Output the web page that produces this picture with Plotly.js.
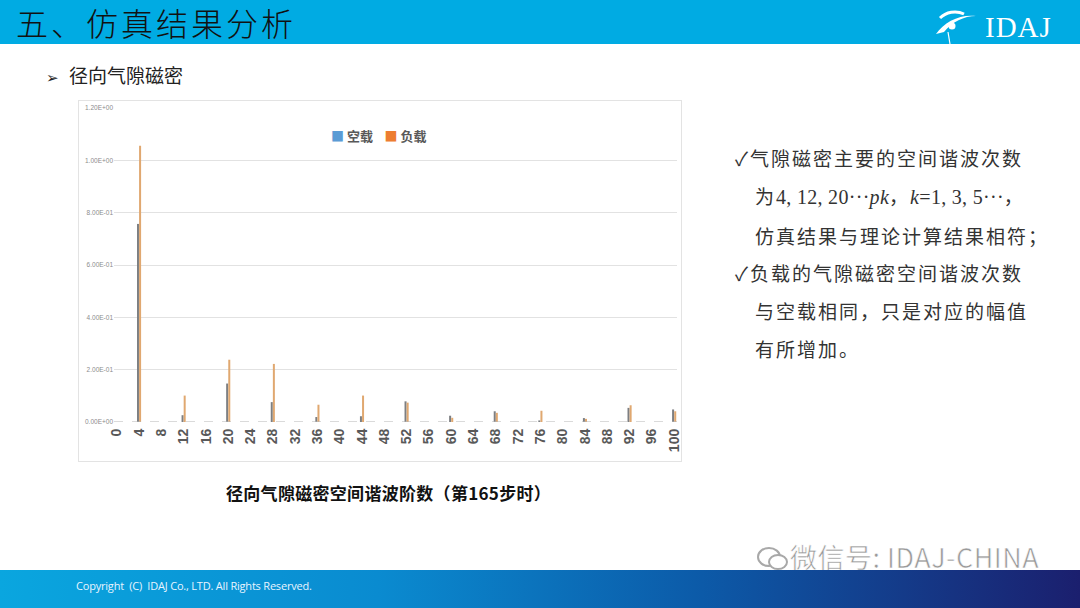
<!DOCTYPE html>
<html>
<head>
<meta charset="utf-8">
<script src="https://cdn.plot.ly/plotly-3.0.1.min.js"></script>
<style>
  html, body { margin:0; padding:0; }
  body { width:1080px; height:608px; position:relative; overflow:hidden; background:#fff;
         font-family:"Noto Sans CJK SC","Noto Sans",sans-serif; }
  #header { position:absolute; left:0; top:0; width:1080px; height:44px; background:#00abe3; }
  #htitle { position:absolute; left:16px; top:2px; font-size:32px; line-height:40px; color:#111;
            font-weight:300; letter-spacing:3px; white-space:nowrap; }
  #logo { position:absolute; left:930px; top:4px; width:130px; height:40px; }
  #sub { position:absolute; left:46px; top:62px; font-size:19px; line-height:26px; color:#222; }
  #sub .arr { font-size:15px; margin-right:10px; }
  #box { position:absolute; left:78px; top:100px; width:602px; height:360px; border:1px solid #e3e3e3; }
  #chart { position:absolute; left:0; top:0; width:602px; height:360px; }
  #cap { position:absolute; left:226px; top:481px; font-size:17px; font-weight:700; color:#111; line-height:24px; letter-spacing:0.3px; white-space:nowrap; }
  #rt { position:absolute; left:735px; top:139px; font-size:19px; line-height:37.8px; color:#333; letter-spacing:2px; white-space:nowrap; }
  #rt .ind { padding-left:20px; }
  #rt .s { font-family:"Liberation Serif",serif; font-size:20px; letter-spacing:0.3px; }
  #rt i { font-family:"Liberation Serif",serif; font-size:20px; letter-spacing:0.3px; }
  #footer { position:absolute; left:0; top:570px; width:1080px; height:38px;
            background:linear-gradient(90deg,#0aa6df 0%,#0a8bd0 35%,#0c5aa8 65%,#1b1f6e 100%); }
  #copy { position:absolute; left:76px; top:578px; font-size:11px; color:#e8f4ff; line-height:16px;
          font-family:"Open Sans","Noto Sans",sans-serif; letter-spacing:-0.2px; }
  #wm { position:absolute; left:756px; top:540px; font-size:27px; color:#9a9a9a; line-height:34px;
        -webkit-text-stroke:0.6px #fff; letter-spacing:0.5px; white-space:nowrap; }
</style>
</head>
<body>
<div id="header">
  <div id="htitle">五、仿真结果分析</div>
  <svg id="logo" viewBox="0 0 130 40">
    <path d="M6 30 C 14 18, 30 10, 46 12 C 34 12, 22 18, 14 28 Z" fill="#fff"/>
    <path d="M10 14 C 16 8, 26 6, 34 10" stroke="#fff" stroke-width="3" fill="none"/>
    <circle cx="22" cy="22" r="3.5" fill="#fff"/>
    <path d="M18 28 L 20 40" stroke="#fff" stroke-width="1.2"/>
    <text x="55" y="33" font-family="Liberation Serif, serif" font-size="29" fill="#fff" letter-spacing="1">IDAJ</text>
  </svg>
</div>
<div id="sub"><span class="arr">➢</span>径向气隙磁密</div>
<div id="box"><div id="chart"></div></div>
<div id="cap">径向气隙磁密空间谐波阶数（第165步时）</div>
<div id="rt">
  <div>✓气隙磁密主要的空间谐波次数</div>
  <div class="ind">为<span class="s">4, 12, 20···</span><i>pk</i>，<i>k</i><span class="s">=1, 3, 5···</span>，</div>
  <div class="ind">仿真结果与理论计算结果相符；</div>
  <div>✓负载的气隙磁密空间谐波次数</div>
  <div class="ind">与空载相同，只是对应的幅值</div>
  <div class="ind">有所增加。</div>
</div>
<div id="wm">
  <svg width="34" height="26" viewBox="0 0 34 26" style="vertical-align:-4px">
    <ellipse cx="13" cy="11" rx="11" ry="9" fill="none" stroke="#a8a8a8" stroke-width="2"/>
    <ellipse cx="22" cy="16" rx="9" ry="7" fill="#fff" stroke="#a8a8a8" stroke-width="2"/>
  </svg>微信号: IDAJ-CHINA</div>
<div id="footer"></div>
<div id="copy">Copyright&nbsp; (C)&nbsp; IDAJ Co., LTD. All Rights Reserved.</div>

<script>
// Harmonic orders with non-zero amplitude
const harmonicOrders = [4, 12, 20, 28, 36, 44, 52, 60, 68, 76, 84, 92, 100];
// 空载 (no-load) amplitudes
const noLoadValues = [0.757, 0.026, 0.147, 0.076, 0.019, 0.022, 0.079, 0.024, 0.041, 0.006, 0.015, 0.054, 0.048];
// 负载 (load) amplitudes
const loadValues   = [1.056, 0.101, 0.238, 0.222, 0.066, 0.101, 0.074, 0.016, 0.035, 0.043, 0.012, 0.064, 0.041];
// Axis ticks
const xTickVals = [0,4,8,12,16,20,24,28,32,36,40,44,48,52,56,60,64,68,72,76,80,84,88,92,96,100];
const yTickVals = [0, 0.2, 0.4, 0.6, 0.8, 1.0, 1.2];
const yTickText = ["0.00E+00","2.00E-01","4.00E-01","6.00E-01","8.00E-01","1.00E+00","1.20E+00"];
const seriesNames = ["空载", "负载"];

const traces = [
  { type:'bar', name:seriesNames[0], x:harmonicOrders, y:noLoadValues,
    marker:{color:'#7d7f82'}, offset:-0.38, width:0.36 },
  { type:'bar', name:seriesNames[1], x:harmonicOrders, y:loadValues,
    marker:{color:'#e0a870'}, offset:0.0, width:0.36 }
];

const layout = {
  width:602, height:360,
  margin:{l:35, r:4, t:7, b:39},
  paper_bgcolor:'#fff', plot_bgcolor:'#fff',
  barmode:'overlay',
  showlegend:false,
  xaxis:{ type:'linear', range:[-0.5,100.5], tickvals:xTickVals, tickangle:-90,
          tickfont:{family:'Liberation Sans, Arial, sans-serif', size:14, color:'#595959', weight:'bold'},
          showgrid:false, zeroline:false, showline:false, ticks:'', ticklabelstandoff:3,
          ticklabeloverflow:'allow', automargin:false },
  yaxis:{ range:[0,1.2], tickvals:yTickVals, ticktext:yTickText,
          tickfont:{family:'Liberation Sans, Arial, sans-serif', size:6.5, color:'#8c8c8c'},
          showgrid:true, gridcolor:'#e2e2e2', gridwidth:1, zeroline:false, showline:false, ticks:'' },
  shapes:[
    { type:'line', xref:'x', yref:'y', x0:-0.5, x1:100.5, y0:0, y1:0,
      line:{color:'#b5b5b5', width:1.2, dash:'dash'} }
  ],
  annotations:[
    { xref:'paper', yref:'paper', x:0.47, y:0.912, xanchor:'center', yanchor:'middle', showarrow:false,
      text:'<span style="color:#5b9bd5">■</span> <b>'+seriesNames[0]+'</b>    <span style="color:#ed7d31">■</span> <b>'+seriesNames[1]+'</b>',
      font:{family:'Noto Sans CJK SC, sans-serif', size:13, color:'#595959'} }
  ]
};

Plotly.newPlot('chart', traces, layout, {staticPlot:true, displayModeBar:false});
</script>
</body>
</html>
